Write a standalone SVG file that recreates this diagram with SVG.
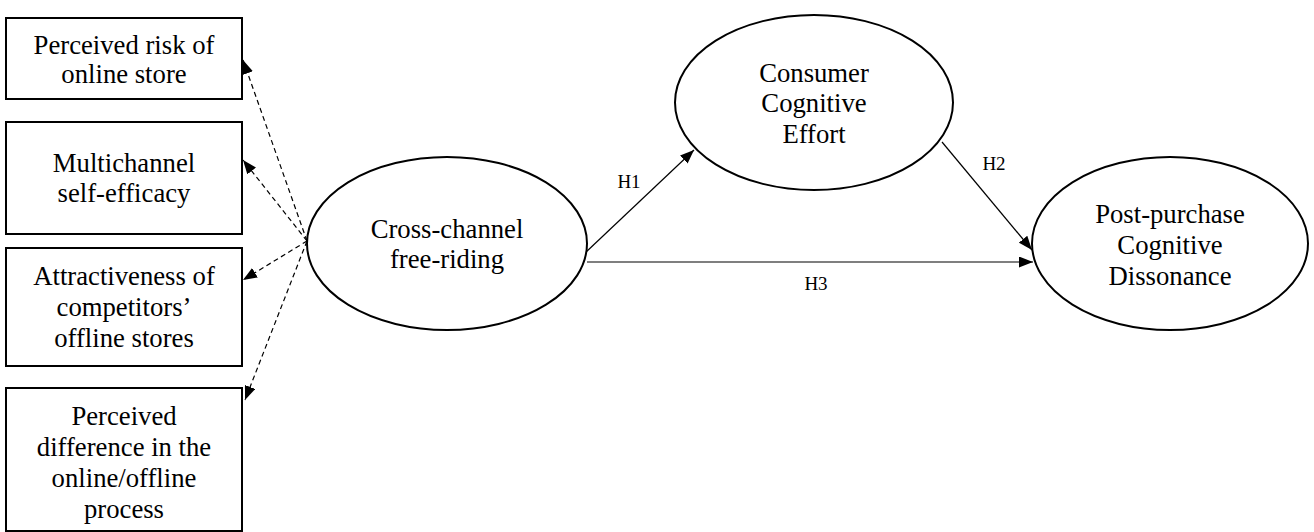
<svg xmlns="http://www.w3.org/2000/svg" width="1314" height="532" viewBox="0 0 1314 532">
<style>
.box{fill:#fff;stroke:#000;stroke-width:2}
.ell{fill:#fff;stroke:#000;stroke-width:2}
.t{font-family:"Liberation Serif","Times New Roman",serif;font-size:26.7px;fill:#000;text-anchor:middle}
.h{font-family:"Liberation Serif","Times New Roman",serif;font-size:19px;fill:#000;text-anchor:middle}
.dash{fill:none;stroke:#000;stroke-width:1.2;stroke-dasharray:5,3.5}
.solid{fill:none;stroke:#000;stroke-width:1.2}
</style>
<defs>
<marker id="arr" viewBox="0 0 14 11" refX="14" refY="5.5" markerWidth="14" markerHeight="11" markerUnits="userSpaceOnUse" orient="auto">
<path d="M0,0 L14,5.5 L0,11 z" fill="#000"/>
</marker>
</defs>
<rect width="1314" height="532" fill="#fff"/>
<g id="connectors">
<line class="dash" x1="307" y1="241" x2="243" y2="60" marker-end="url(#arr)"/>
<line class="dash" x1="307" y1="241" x2="243" y2="160" marker-end="url(#arr)"/>
<line class="dash" x1="307" y1="241" x2="243" y2="280" marker-end="url(#arr)"/>
<line class="dash" x1="307" y1="241" x2="245" y2="400" marker-end="url(#arr)"/>
<line class="solid" x1="585" y1="253" x2="694" y2="150" marker-end="url(#arr)"/>
<line class="solid" x1="942" y1="142" x2="1032" y2="250" marker-end="url(#arr)"/>
<line class="solid" x1="587" y1="262" x2="1033" y2="262" marker-end="url(#arr)"/>
<text class="h" x="629" y="188">H1</text>
<text class="h" x="994" y="170">H2</text>
<text class="h" x="816" y="290">H3</text>
</g>
<g id="n-risk">
<rect class="box" x="6" y="18" width="236" height="81"/>
<text class="t" x="124" y="54">Perceived risk of</text>
<text class="t" x="124" y="83">online store</text>
</g>
<g id="n-efficacy">
<rect class="box" x="6" y="122" width="236" height="112"/>
<text class="t" x="124" y="172">Multichannel</text>
<text class="t" x="124" y="202">self-efficacy</text>
</g>
<g id="n-attract">
<rect class="box" x="6" y="248" width="236" height="118"/>
<text class="t" x="124" y="285">Attractiveness of</text>
<text class="t" x="124" y="316">competitors’</text>
<text class="t" x="124" y="347">offline stores</text>
</g>
<g id="n-difference">
<rect class="box" x="6" y="388" width="236" height="143"/>
<text class="t" x="124" y="425">Perceived</text>
<text class="t" x="124" y="456">difference in the</text>
<text class="t" x="124" y="487">online/offline</text>
<text class="t" x="124" y="518">process</text>
</g>
<g id="n-freeriding">
<ellipse class="ell" cx="447" cy="243.5" rx="140" ry="86.5"/>
<text class="t" x="447" y="238">Cross-channel</text>
<text class="t" x="447" y="268">free-riding</text>
</g>
<g id="n-effort">
<ellipse class="ell" cx="814" cy="102.5" rx="139" ry="87.5"/>
<text class="t" x="814" y="82">Consumer</text>
<text class="t" x="814" y="112">Cognitive</text>
<text class="t" x="814" y="143">Effort</text>
</g>
<g id="n-dissonance">
<ellipse class="ell" cx="1170" cy="243.5" rx="138" ry="86.5"/>
<text class="t" x="1170" y="223">Post-purchase</text>
<text class="t" x="1170" y="254">Cognitive</text>
<text class="t" x="1170" y="285">Dissonance</text>
</g>
</svg>
